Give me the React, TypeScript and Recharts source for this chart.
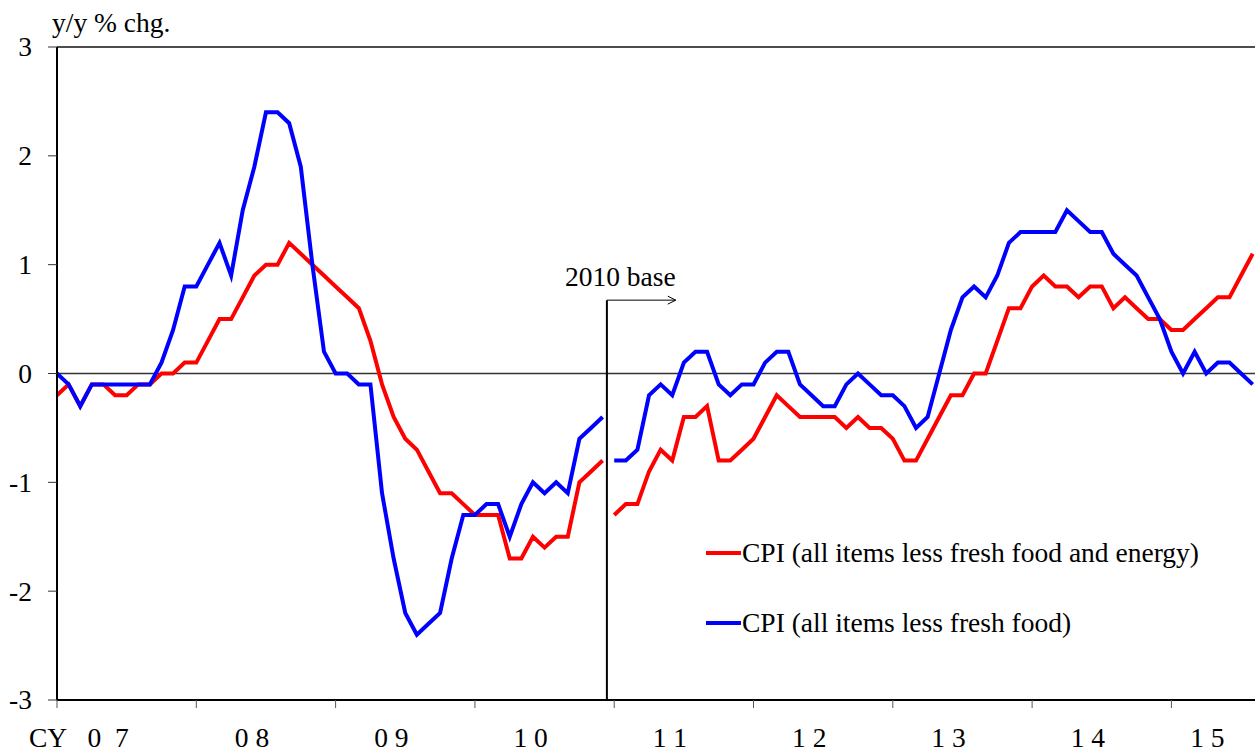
import React from 'react';
import { LineChart, Line, XAxis, YAxis, ReferenceLine, Legend } from 'recharts';

// CPI (all items less fresh food and energy), y/y % chg., 2005 base: Jan 2007 - Dec 2010
const coreCore2005Base = [
  -0.2, -0.1, -0.3, -0.1, -0.1, -0.2, -0.2, -0.1, -0.1, 0.0, 0.0, 0.1,
  0.1, 0.3, 0.5, 0.5, 0.7, 0.9, 1.0, 1.0, 1.2, 1.1, 1.0, 0.9,
  0.8, 0.7, 0.6, 0.3, -0.1, -0.4, -0.6, -0.7, -0.9, -1.1, -1.1, -1.2,
  -1.3, -1.3, -1.3, -1.7, -1.7, -1.5, -1.6, -1.5, -1.5, -1.0, -0.9, -0.8,
];
// 2010 base: Jan 2011 - Aug 2015
const coreCore2010Base = [
  -1.3, -1.2, -1.2, -0.9, -0.7, -0.8, -0.4, -0.4, -0.3, -0.8, -0.8, -0.7,
  -0.6, -0.4, -0.2, -0.3, -0.4, -0.4, -0.4, -0.4, -0.5, -0.4, -0.5, -0.5,
  -0.6, -0.8, -0.8, -0.6, -0.4, -0.2, -0.2, 0.0, 0.0, 0.3, 0.6, 0.6,
  0.8, 0.9, 0.8, 0.8, 0.7, 0.8, 0.8, 0.6, 0.7, 0.6, 0.5, 0.5,
  0.4, 0.4, 0.5, 0.6, 0.7, 0.7, 0.9, 1.1,
];
// CPI (all items less fresh food), 2005 base: Jan 2007 - Dec 2010
const core2005Base = [
  0.0, -0.1, -0.3, -0.1, -0.1, -0.1, -0.1, -0.1, -0.1, 0.1, 0.4, 0.8,
  0.8, 1.0, 1.2, 0.9, 1.5, 1.9, 2.4, 2.4, 2.3, 1.9, 1.0, 0.2,
  0.0, 0.0, -0.1, -0.1, -1.1, -1.7, -2.2, -2.4, -2.3, -2.2, -1.7, -1.3,
  -1.3, -1.2, -1.2, -1.5, -1.2, -1.0, -1.1, -1.0, -1.1, -0.6, -0.5, -0.4,
];
// 2010 base: Jan 2011 - Aug 2015
const core2010Base = [
  -0.8, -0.8, -0.7, -0.2, -0.1, -0.2, 0.1, 0.2, 0.2, -0.1, -0.2, -0.1,
  -0.1, 0.1, 0.2, 0.2, -0.1, -0.2, -0.3, -0.3, -0.1, 0.0, -0.1, -0.2,
  -0.2, -0.3, -0.5, -0.4, 0.0, 0.4, 0.7, 0.8, 0.7, 0.9, 1.2, 1.3,
  1.3, 1.3, 1.3, 1.5, 1.4, 1.3, 1.3, 1.1, 1.0, 0.9, 0.7, 0.5,
  0.2, 0.0, 0.2, 0.0, 0.1, 0.1, 0.0, -0.1,
];

const yearLabels = ['0\u00a0\u00a07', '0 8', '0 9', '1 0', '1 1', '1 2', '1 3', '1 4', '1 5'];
const yTicks = [-3, -2, -1, 0, 1, 2, 3];
const SERIES_RED = 'CPI (all items less fresh food and energy)';
const SERIES_BLUE = 'CPI (all items less fresh food)';

const OLD_LEN = coreCore2005Base.length;
const TOTAL = OLD_LEN + coreCore2010Base.length;
const data = Array.from({ length: TOTAL }, (_, i) => ({
  m: i,
  redOld: i < OLD_LEN ? coreCore2005Base[i] : null,
  redNew: i >= OLD_LEN ? coreCore2010Base[i - OLD_LEN] : null,
  blueOld: i < OLD_LEN ? core2005Base[i] : null,
  blueNew: i >= OLD_LEN ? core2010Base[i - OLD_LEN] : null,
}));

const yearTicks = yearLabels.map((_, k) => k * 12);
const labelTicks = yearLabels.map((_, k) => (k === 0 ? 4.4 : Math.min(k * 12 + 4.8, 99.1)));
const BREAK_X = 47.37;
const ARROW_END = 53.3;
const ARROW_Y = 0.674;

const FONT = "'Liberation Serif', 'Times New Roman', serif";
const FS = 27.5;

const YTick = (props: any) => {
  const { x, y, payload } = props;
  return (
    <text x={x} y={y} dy="0.34em" textAnchor="end" fontSize={FS} fontFamily={FONT} fill="#000">
      {String(payload.value)}
    </text>
  );
};

const XLabelTick = (props: any) => {
  const { x, y, index } = props;
  return (
    <g>
      <text x={x} y={y + 27} textAnchor="middle" fontSize={FS} fontFamily={FONT} fill="#000">
        {yearLabels[index]}
      </text>
      {index === 0 && (
        <text x={x - 60} y={y + 27} textAnchor="middle" fontSize={FS} fontFamily={FONT} fill="#000">
          CY
        </text>
      )}
    </g>
  );
};

const YLabel = (props: any) => {
  const { viewBox } = props;
  return (
    <text
      x={viewBox.x + viewBox.width - 5}
      y={viewBox.y - 15}
      textAnchor="start"
      fontSize={FS}
      fontFamily={FONT}
      fill="#000"
    >
      y/y % chg.
    </text>
  );
};

const ArrowShape = (props: any) => {
  const { x1, y1, x2 } = props;
  return (
    <g>
      <line x1={x1} y1={y1} x2={x2} y2={y1} stroke="#000" strokeWidth={1} />
      <polyline
        points={`${x2 - 8},${y1 - 4} ${x2},${y1} ${x2 - 8},${y1 + 4}`}
        fill="none"
        stroke="#000"
        strokeWidth={1}
      />
      <text x={x2} y={y1 - 14} textAnchor="end" fontSize={FS} fontFamily={FONT} fill="#000">
        2010 base
      </text>
    </g>
  );
};

const LegendContent = (props: any) => {
  const items = (props.payload || []).filter((p: any) => p.type !== 'none');
  return (
    <div style={{ fontFamily: FONT, fontSize: FS, color: '#000', lineHeight: '36px' }}>
      {items.map((p: any, k: number) => (
        <div
          key={k}
          style={{ display: 'flex', alignItems: 'center', height: 36, marginBottom: k === 0 ? 34.6 : 0 }}
        >
          <svg width={36} height={8} style={{ display: 'block' }}>
            <line x1={0} y1={4} x2={35} y2={4} stroke={p.color} strokeWidth={4} />
          </svg>
          <span style={{ display: 'inline-block', whiteSpace: 'nowrap' }}>{p.value}</span>
        </div>
      ))}
    </div>
  );
};

export default function App() {
  return (
    <div style={{ position: 'absolute', left: 0, top: 0, width: 1255, height: 755, background: '#fff' }}>
      <LineChart width={1255} height={755} data={data} margin={{ top: 47, right: 0, bottom: 0, left: 0 }}>
        <XAxis
          xAxisId="a"
          dataKey="m"
          type="number"
          domain={[0, 103.2]}
          ticks={yearTicks}
          interval={0}
          height={20}
          tickSize={8}
          tick={() => <g />}
          tickLine={{ stroke: '#555', strokeWidth: 1 }}
          axisLine={{ stroke: '#000', strokeWidth: 2 }}
        />
        <XAxis
          xAxisId="b"
          dataKey="m"
          type="number"
          domain={[0, 103.2]}
          ticks={labelTicks}
          interval={0}
          height={35}
          tickSize={0}
          tickMargin={0}
          tickLine={false}
          axisLine={false}
          tick={<XLabelTick />}
        />
        <YAxis
          type="number"
          domain={[-3, 3]}
          ticks={yTicks}
          interval={0}
          width={57}
          tickSize={9}
          tickMargin={16}
          tick={<YTick />}
          tickLine={{ stroke: '#333', strokeWidth: 1 }}
          axisLine={{ stroke: '#000', strokeWidth: 2 }}
          label={{ content: <YLabel /> }}
        />
        <ReferenceLine xAxisId="a" y={3} stroke="#4d4d4d" strokeWidth={2} />
        <ReferenceLine xAxisId="a" y={0} stroke="#333" strokeWidth={1.3} />
        <ReferenceLine
          xAxisId="a"
          segment={[{ x: BREAK_X, y: -3 }, { x: BREAK_X, y: ARROW_Y }]}
          stroke="#000"
          strokeWidth={2}
        />
        <ReferenceLine
          xAxisId="a"
          segment={[{ x: BREAK_X, y: ARROW_Y }, { x: ARROW_END, y: ARROW_Y }]}
          shape={ArrowShape}
        />
        <Line xAxisId="a" type="linear" dataKey="redOld" name={SERIES_RED} stroke="#FF0000" strokeWidth={4} dot={false} activeDot={false} isAnimationActive={false} connectNulls={false} />
        <Line xAxisId="a" type="linear" dataKey="redNew" name={SERIES_RED} legendType="none" stroke="#FF0000" strokeWidth={4} dot={false} activeDot={false} isAnimationActive={false} connectNulls={false} />
        <Line xAxisId="a" type="linear" dataKey="blueOld" name={SERIES_BLUE} stroke="#0000FF" strokeWidth={4} dot={false} activeDot={false} isAnimationActive={false} connectNulls={false} />
        <Line xAxisId="a" type="linear" dataKey="blueNew" name={SERIES_BLUE} legendType="none" stroke="#0000FF" strokeWidth={4} dot={false} activeDot={false} isAnimationActive={false} connectNulls={false} />
        <Legend
          layout="vertical"
          align="center"
          verticalAlign="middle"
          content={<LegendContent />}
          wrapperStyle={{ left: 706, top: 534.7, width: 545, height: 110 }}
        />
      </LineChart>
    </div>
  );
}
